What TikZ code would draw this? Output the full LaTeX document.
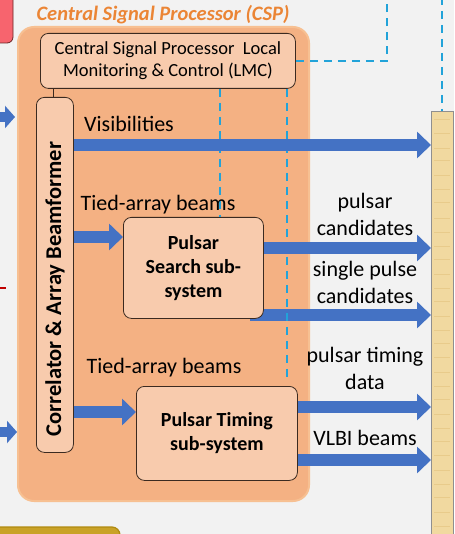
\documentclass[tikz,border=0pt]{standalone}
\usepackage{fontspec}
\setmainfont{Carlito}
\usetikzlibrary{arrows.meta}
\definecolor{bgc}{HTML}{F2F2F2}
\definecolor{cspfill}{HTML}{F4B183}
\definecolor{cspedge}{HTML}{F7C092}
\definecolor{boxfill}{HTML}{F8CBAD}
\definecolor{boxedge}{HTML}{3B2A20}
\definecolor{arrowblue}{HTML}{4472C4}
\definecolor{dashblue}{HTML}{22A3D9}
\definecolor{titleorange}{HTML}{EB8535}
\definecolor{barfill}{HTML}{F1D9A0}
\definecolor{bartex}{HTML}{E2C27E}
\definecolor{baredge}{HTML}{8F8F8F}
\definecolor{redfill}{HTML}{F7646E}
\definecolor{rededge}{HTML}{6B2525}
\definecolor{goldfill}{HTML}{C9A227}
\definecolor{goldedge}{HTML}{B08A10}
\definecolor{tickred}{HTML}{C00000}
\tikzset{
  cspbox/.style={draw=cspedge, line width=2pt, fill=cspfill, rounded corners=16pt, inner sep=0pt, anchor=north west},
  subbox/.style={draw=boxedge, line width=0.8pt, fill=boxfill, rounded corners=8pt, inner sep=0pt, anchor=north west, align=center},
  boldtxt/.style={font=\bfseries\fontsize{20}{24}\selectfont},
  lmctxt/.style={font=\fontsize{18.5}{22}\selectfont},
  lbl/.style={font=\fontsize{22}{27}\selectfont, inner sep=0pt, align=center},
  titletxt/.style={font=\bfseries\itshape\fontsize{20.5}{24}\selectfont, text=titleorange, inner sep=0pt},
  fat/.style={draw=arrowblue, line width=12pt, -{Triangle[width=26pt,length=14pt]}},
  fatin/.style={draw=arrowblue, line width=10pt, -{Triangle[width=22pt,length=10pt]}},
  ctrl/.style={draw=dashblue, line width=2.6pt, dash pattern=on 8pt off 6pt},
  thinlink/.style={draw=boxedge, line width=0.8pt}
}
\begin{document}
\begin{tikzpicture}[x=1pt,y=-1pt]
\useasboundingbox (0,0) rectangle (454,534);
\fill[bgc] (0,0) rectangle (454,534);

% side boxes (partially visible)
\draw[fill=redfill, draw=rededge, line width=0.8pt, rounded corners=6pt] (-10,-10) rectangle (13,43);
\draw[fill=goldfill, draw=goldedge, line width=1.2pt, rounded corners=8pt] (-10,527) rectangle (120,545);

% CSP container
\node[cspbox, minimum width=291pt, minimum height=474pt] (csp) at (17,26) {};
\node[titletxt] (title) at (163,15) {Central Signal Processor (CSP)};

% right bar
\node[draw=baredge, line width=0.8pt, fill=barfill, inner sep=0pt, anchor=north west, minimum width=22pt, minimum height=440pt] (bar) at (431,111) {};
\foreach \yy in {120,134,149,161,176,190,203,219,232,246,259,274,288,301,316,330,343,357,372,386,399,414,428,441,455,470,484,497,512,526}
  \draw[bartex, line width=1pt, opacity=0.6] (434,\yy) -- (450,\yy);

% input arrows
\coordinate (inAs) at (-4,117);
\coordinate (inAe) at (15,117);
\coordinate (inBs) at (-4,432);
\coordinate (inBe) at (17,432);
\draw[fatin] (inAs) -- (inAe);
\draw[fatin] (inBs) -- (inBe);
\coordinate (ticks) at (0,288);
\coordinate (ticke) at (6,288);
\draw[tickred, line width=1.5pt] (ticks) -- (ticke);

% LMC
\node[subbox, lmctxt, minimum width=255pt, minimum height=55pt] (lmc) at (40,33) {Central Signal Processor~~Local\\Monitoring \& Control (LMC)};

% correlator
\node[subbox, minimum width=37pt, minimum height=355pt] (corr) at (36,97) {};
\node[font=\bfseries\fontsize{22.5}{26}\selectfont, rotate=90, inner sep=0pt] (corrlbl) at (55,289) {Correlator \& Array Beamformer};
\draw[thinlink] (lmc.south -| 53,0) -- (corr.north -| 53,0);

% arrows drawn beneath the sub-system boxes
\coordinate (spstart) at (250,315);
\draw[fat] (spstart) -- (bar.west |- 0,315);

% pulsar search
\node[subbox, boldtxt, minimum width=140pt, minimum height=101pt] (ps) at (123,217) {Pulsar\\Search sub-\\system};
% pulsar timing
\node[subbox, boldtxt, minimum width=161pt, minimum height=94pt] (pt) at (136,386) {Pulsar Timing\\sub-system};

% control dashed lines
\coordinate (dtop1) at (387,-3);
\coordinate (dtop2) at (442,-3);
\coordinate (dend2) at (287,378);
\draw[ctrl] (lmc.south -| 220,0) -- (ps.north -| 220,0);
\draw[ctrl] (lmc.south -| 287,0) -- (dend2);
\draw[ctrl] (lmc.east |- 0,61) -| (dtop1);
\draw[ctrl] (dtop2) -- (bar.north -| 442,0);

% data arrows
\draw[fat] (corr.east |- 0,145) -- (bar.west |- 0,145);
\draw[fat] (corr.east |- 0,237) -- (ps.west |- 0,237);
\draw[fat] (ps.east |- 0,248) -- (bar.west |- 0,248);
\draw[fat] (corr.east |- 0,412) -- (pt.west |- 0,412);
\draw[fat] (pt.east |- 0,407) -- (bar.west |- 0,407);
\draw[fat] (pt.east |- 0,460) -- (bar.west |- 0,460);

% labels
\node[lbl, anchor=west] (lvis) at (84,124) {Visibilities};
\node[lbl] (ltab1) at (158,205) {Tied-array beams};
\node[lbl] (ltab2) at (164,368) {Tied-array beams};
\node[lbl] (lpc) at (365,214) {pulsar\\candidates};
\node[lbl] (lsp) at (365,282) {single pulse\\candidates};
\node[lbl] (lptd) at (365,368) {pulsar timing\\data};
\node[lbl] (lvlbi) at (365,438) {VLBI beams};
\end{tikzpicture}
\end{document}
